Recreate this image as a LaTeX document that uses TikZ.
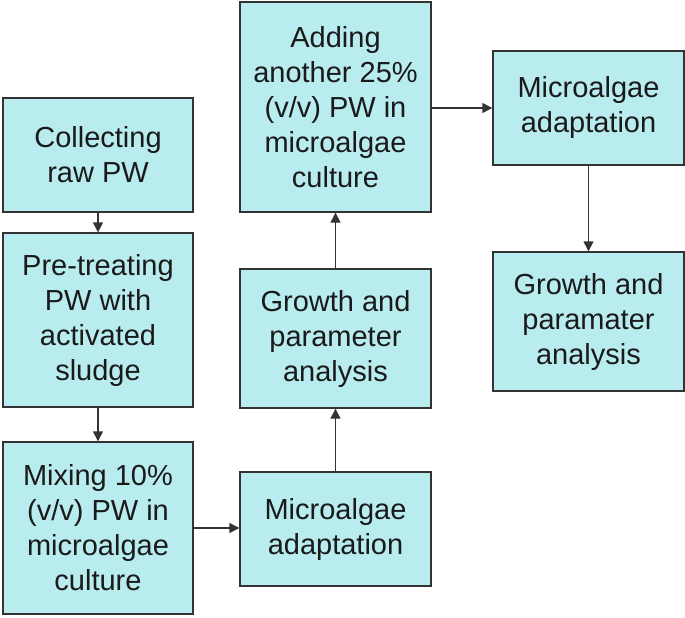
\documentclass[tikz,border=0pt]{standalone}
\usepackage{fontspec}
\setmainfont{Liberation Sans}
\usetikzlibrary{arrows.meta}
\definecolor{boxfill}{HTML}{B8ECEF}
\definecolor{boxline}{HTML}{333333}
\definecolor{txt}{HTML}{1A1A1A}
\begin{document}
\begin{tikzpicture}[x=1pt,y=-1pt,
  stepbox/.style={draw=boxline,fill=boxfill,line width=1.4pt,rectangle,align=center,
    text=txt,inner sep=0pt,font=\fontsize{29}{35}\selectfont},
  conn/.style={draw=boxline,line width=1.4pt,-{Triangle[length=10pt,width=10pt]}}]
\useasboundingbox (0,0) rectangle (685,618);
\node[stepbox,minimum width=190pt,minimum height=114pt] (b1) at (98,155) {Collecting\\raw PW};
\node[stepbox,minimum width=190pt,minimum height=174pt] (b2) at (98,320) {Pre-treating\\PW with\\activated\\sludge};
\node[stepbox,minimum width=190pt,minimum height=172pt] (b3) at (98,528) {Mixing 10\%\\(v/v) PW in\\microalgae\\culture};
\node[stepbox,minimum width=191pt,minimum height=114pt] (b4) at (335.5,529) {Microalgae\\adaptation};
\node[stepbox,minimum width=191pt,minimum height=139pt] (b5) at (335.5,338.5) {Growth and\\parameter\\analysis};
\node[stepbox,minimum width=191pt,minimum height=210pt] (b6) at (335.5,107) {Adding\\another 25\%\\(v/v) PW in\\microalgae\\culture};
\node[stepbox,minimum width=191pt,minimum height=114pt] (b7) at (588.5,108) {Microalgae\\adaptation};
\node[stepbox,minimum width=191pt,minimum height=139pt] (b8) at (588.5,321.5) {Growth and\\paramater\\analysis};
\draw[conn] (b1) -- (b2);
\draw[conn] (b2) -- (b3);
\draw[conn] (b3.east) -- (b4.west |- b3.east);
\draw[conn] (b4) -- (b5);
\draw[conn] (b5) -- (b6);
\draw[conn] (b6.east |- b7.west) -- (b7.west);
\draw[conn] (b7) -- (b8);
\end{tikzpicture}
\end{document}
